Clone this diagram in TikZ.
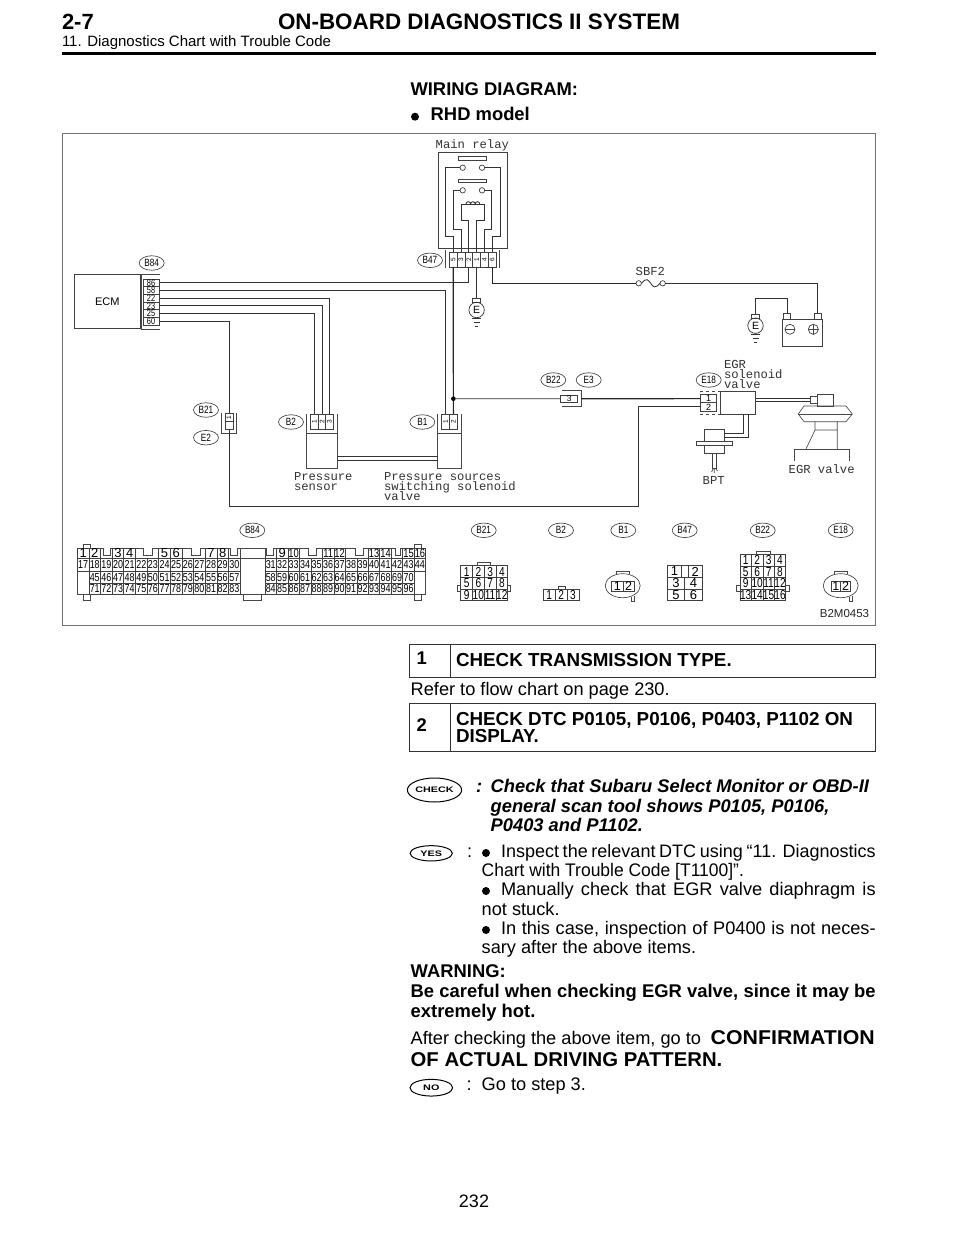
\documentclass[tikz,border=0pt]{standalone}
\usepackage{fontspec}
\usepackage{graphicx}
\setmainfont{Liberation Sans}
\newfontfamily\cadfont{Liberation Mono}
\usetikzlibrary{shapes.geometric}
\newcommand{\pxs}[1]{\fontsize{#1}{#1}\selectfont}
\newcommand{\nar}[1]{\scalebox{.78}[1]{#1}}
\newcommand{\rotp}[1]{\rotatebox{90}{\pxs{6.5}#1}}
\newcommand{\gndsym}[2]{\draw[wire] (#1-4.5,#2)--(#1+4.5,#2) (#1-3,#2+4)--(#1+3,#2+4) (#1-1.5,#2+8)--(#1+1.5,#2+8);}
\tikzset{
  wire/.style={line width=.85pt,draw=black!80},
  thick wire/.style={line width=1.2pt,draw=black!85},
  thinl/.style={line width=.65pt,draw=black!72},
  txt/.style={anchor=base west,inner sep=0,outer sep=0,text=black},
  cad/.style={anchor=base west,inner sep=0,outer sep=0,text=black!80,font=\cadfont\pxs{12.2}},
  bubble/.style={ellipse,draw=black!75,line width=.65pt,minimum width=25pt,minimum height=14.5pt,inner sep=0,outer sep=0,font=\pxs{10.5}},
  oval/.style={ellipse,draw=black,line width=1pt,inner sep=0,outer sep=0,font=\bfseries\pxs{8}},
  cell/.style={rectangle,draw=black!75,line width=.65pt,inner sep=0,outer sep=0},
  contact/.style={circle,draw=black!80,line width=.65pt,minimum size=5.4pt,inner sep=0,outer sep=0,fill=white},
  rm/.style={txt,font=\pxs{18.2}},
  bd/.style={txt,font=\bfseries\pxs{18.4}},
  bi/.style={txt,font=\bfseries\itshape\pxs{18.3}},
  dotm/.style={circle,fill=black,minimum size=8pt,inner sep=0},
}
\begin{document}
\begin{tikzpicture}[x=1pt,y=-1pt]
\useasboundingbox (0,0) rectangle (960,1242);
\fill[white] (0,0) rectangle (960,1242);
% ---- header
\node[txt,font=\bfseries\pxs{22}] (hA) at (62,29) {2-7};
\node[txt,font=\bfseries\pxs{22.4}] (hB) at (278,29) {ON-BOARD DIAGNOSTICS II SYSTEM};
\node[txt,font=\pxs{15}] (hC) at (62,46.7) {11. Diagnostics Chart with Trouble Code};
\coordinate (ruleL) at (62,53.7); \coordinate (ruleR) at (876,53.7);
\draw[line width=3pt] (ruleL) -- (ruleR);
\node[bd] (wd) at (410.5,95.7) {WIRING DIAGRAM:};
\node[dotm] (bul0) at (415,116.7) {};
\node[bd] (rhd) at (430.7,120.5) {RHD model};
% ---- frame
\draw[line width=1pt,draw=black!55] (62.5,133) rectangle (875.7,625);
% ---- ECM
\node[cell,minimum width=66.7pt,minimum height=54.7pt,font=\pxs{11}] (ecm) at (107.3,301.3) {ECM};
\node[bubble] (bE) at (151.7,263) {\nar{B84}};
\draw[thinl] (141,274)--(160,274) (141,329)--(160,329) (141,274)--(141,329);
\foreach \n/\y in {86/282.8,58/290.5,22/298.2,23/305.8,25/313.5,60/321.2}
  \node[cell,minimum width=16pt,minimum height=7.67pt,font=\pxs{9.5}] (e\n) at (151,\y) {\nar{\n}};
% ---- main relay
\node[cad] (tRelay) at (435.7,148.3) {Main relay};
\node[cell,minimum width=69.3pt,minimum height=96pt] (relay) at (472.65,200) {};
\node[cell,minimum width=27.3pt,minimum height=4pt] (bar1) at (472.3,158) {};
\node[cell,minimum width=27.3pt,minimum height=3.4pt] (bar2) at (472.3,181) {};
\node[contact] (c1l) at (462.7,167.7) {};
\node[contact] (c1r) at (482,167.7) {};
\node[contact] (c2l) at (462.7,190.3) {};
\node[contact] (c2r) at (482,190.3) {};
\node[bubble] (bR) at (430,260.3) {\nar{B47}};
\draw[thinl] (445,250)--(445,268) (499.3,250)--(499.3,268);
\foreach \k/\x/\t in {1/453.2/5,2/461/3,3/468.8/2,4/476.6/1,5/484.4/4,6/492.2/6}
  \node[cell,minimum width=7.8pt,minimum height=14.7pt] (r\k) at (\x,259.6) {\rotp{\t}};
\draw[wire] (c1l.west) -| (445,236.7) -| (r1.north);
\draw[wire] (c1r.east) -| (500,236.7) -| (r6.north);
\draw[wire] (c2l.west) -| (453,229.3) -| (r2.north);
\draw[wire] (c2r.east) -| (491.7,229.3) -| (r5.north);
\draw[wire] (r3.north) |- (461,220) |- (484,204) -- (484,220) -| (r4.north);
\draw[wire] (466,204) arc[start angle=180,end angle=360,radius=2.3] arc[start angle=180,end angle=360,radius=2.3] arc[start angle=180,end angle=360,radius=2.3];
% ---- ground 1
\node[cell,minimum width=8pt,minimum height=3.7pt] (g1t) at (476.6,300.2) {};
\node[circle,draw=black!80,line width=.7pt,minimum size=15.4pt,inner sep=0,font=\pxs{10.5}] (g1) at (476.6,310) {E};
\gndsym{476.6}{318}
\draw[wire] (r4.south) -- (g1t.north);
% ---- ECM wires
\draw[wire] (e86.east) -| (r3.south);
\node[cell,minimum width=7.8pt,minimum height=15.3pt] (b1a) at (445.6,421.7) {\rotp{1}};
\node[cell,minimum width=7.8pt,minimum height=15.3pt] (b1b) at (453.4,421.7) {\rotp{2}};
\foreach \k/\x in {1/314.5,2/322,3/329.5}
  \node[cell,minimum width=7.53pt,minimum height=15.3pt] (b2\k) at (\x,421.7) {\rotp{\k}};
\node[cell,minimum width=7.7pt,minimum height=7.8pt] (b21a) at (229,417.2) {\rotp{1}};
\node[cell,minimum width=7.7pt,minimum height=7.8pt] (b21b) at (229,425.1) {};
\draw[wire] (e58.east) -| (b1a.north);
\draw[wire] (e22.east) -| (b23.north);
\draw[wire] (e23.east) -| (b22.north);
\draw[wire] (e25.east) -| (b21.north);
\draw[wire] (e60.east) -| (b21a.north);
\draw[thick wire] (r1.south) -- (b1b.north);
% ---- B21 E2
\node[bubble] (bB21) at (206,410) {\nar{B21}};
\node[bubble] (bE2) at (206,437.7) {\nar{E2}};
\draw[thinl] (221.3,413)--(221.3,433)--(236.7,433)--(236.7,413);
% ---- pressure sensor and valve
\node[bubble] (bB2) at (291,422) {\nar{B2}};
\node[bubble] (bB1) at (422.3,422) {\nar{B1}};
\draw[thinl] (306.7,414)--(306.7,468.3)--(337.3,468.3)--(337.3,414) (306.7,433.3)--(337.3,433.3);
\draw[thinl] (437.7,414)--(437.7,468.3)--(461,468.3)--(461,414) (437.7,433.3)--(461,433.3);
\coordinate (hoseA) at (337.3,456.7); \coordinate (hoseB) at (437.7,456.7);
\coordinate (hoseC) at (337.3,460); \coordinate (hoseD) at (437.7,460);
\draw[wire] (hoseA)--(hoseB) (hoseC)--(hoseD);
\node[cad] (tPS1) at (294,480.7) {Pressure};
\node[cad] (tPS2) at (294,490.5) {sensor};
\node[cad] (tPV1) at (384,480.7) {Pressure sources};
\node[cad] (tPV2) at (384,490.5) {switching solenoid};
\node[cad] (tPV3) at (384,500.3) {valve};
% ---- junction and B22
\node[circle,fill=black,minimum size=4.6pt,inner sep=0] (dot) at (453.4,398.7) {};
\node[bubble] (bB22) at (553.3,380) {\nar{B22}};
\node[bubble] (bE3) at (588.7,380) {\nar{E3}};
\node[cell,minimum width=17pt,minimum height=7.7pt,font=\pxs{8.5}] (b22) at (569.2,398.8) {3};
\draw[thinl] (561.7,390.7)--(581,390.7)--(581,406.7)--(561.7,406.7);
\draw[wire] (dot) -- (b22.west);
% ---- E18
\node[bubble] (bE18) at (708.7,380) {\nar{E18}};
\node[cell,minimum width=16pt,minimum height=8.3pt,font=\pxs{9}] (e181) at (708.7,398.6) {1};
\node[cell,minimum width=16pt,minimum height=8.3pt,font=\pxs{9}] (e182) at (708.7,406.9) {2};
\node[cell,minimum width=35pt,minimum height=23pt] (egrs) at (738.2,402.5) {};
\draw[thinl,dashed] (700,391)--(720,391) (700,414)--(720,414);
\draw[thick wire] (b22.east) ++(3.5,0) -- (e181.west);
\draw[wire] (b21b.south) |- (638.7,506.7) |- (e182.west);
\node[cad] (tE1) at (724,368) {EGR};
\node[cad] (tE2) at (724,378) {solenoid};
\node[cad] (tE3) at (724,388) {valve};
% ---- BPT
\node[cell,minimum width=20pt,minimum height=12.4pt] (bpt) at (714.3,435.5) {};
\node[cell,minimum width=36.3pt,minimum height=3.6pt] (bptf) at (714.2,443.5) {};
\node[cell,minimum width=20pt,minimum height=8pt] (bptl) at (714.3,449.3) {};
\node[cell,minimum width=3.7pt,minimum height=15pt] (bptp) at (714.2,460.8) {};
\draw[thinl] (711.5,472)..controls (713,469)..(713.5,468.3) (717.5,471)..controls (716,469.5)..(715.5,468.3) (714.3,468.3)--(714.3,473);
\draw[wire] (743.3,414) |- (bpt.east|-0,433.3);
\draw[wire] (748,414) |- (bpt.east|-0,437.3);
\node[cad,anchor=base] (tB) at (713.7,484) {BPT};
% ---- EGR valve
\node[cell,minimum width=16pt,minimum height=11.7pt] (vt) at (825.3,400.2) {};
\draw[wire] (egrs.east|-0,398.3) -- (810,398.3) (egrs.east|-0,401) -- (810,401);
\draw[thinl] (810,396.5) rectangle (817.3,403);
\draw[thinl] (798.3,414)--(804,406)--(846,406)--(852.3,414)--(846,421.7)--(804,421.7)--cycle;
\draw[thinl] (798.3,414)--(852.3,414);
\draw[thinl] (815,421.7)--(815,430)--(806,449) (837.3,421.7)--(837.3,449) (815,430)--(837.3,430);
\draw[thinl] (794,460.7)--(794,449)--(849,449)--(849,460.7);
\node[cad] (tV) at (788.7,473) {EGR valve};
% ---- fuse and battery
\node[cad] (tS) at (635.7,275.7) {SBF2};
\node[contact] (f1) at (638.7,283.3) {};
\node[contact] (f2) at (662.7,283.3) {};
\draw[wire] (f1.east) .. controls (647,277) and (648,280) .. (650.7,283.3) .. controls (653,287) and (655,289) .. (f2.west);
\draw[thick wire] (r6.south) |- (f1.west);
\node[cell,minimum width=39.7pt,minimum height=27.4pt] (bat) at (802.2,333) {};
\node[cell,minimum width=7.4pt,minimum height=5.6pt] (tm) at (787,316.5) {};
\node[cell,minimum width=7.4pt,minimum height=5.6pt] (tp) at (817.7,316.5) {};
\node[circle,draw=black!80,line width=.65pt,minimum size=10pt,inner sep=0] (cm) at (790,329.3) {};
\node[circle,draw=black!80,line width=.65pt,minimum size=10pt,inner sep=0] (cp) at (813.3,329.3) {};
\draw[thinl] (cm.west)--(cm.east) (cp.west)--(cp.east) (cp.north)--(cp.south);
\draw[wire] (f2.east) -| (tp.north);
\node[cell,minimum width=7.6pt,minimum height=4pt] (g2t) at (755.5,316) {};
\node[circle,draw=black!80,line width=.7pt,minimum size=15.4pt,inner sep=0,font=\pxs{10.5}] (g2) at (755.5,325.7) {E};
\gndsym{755.5}{334}
\draw[wire] (tm.north) |- (755.5,298.3) -- (g2t.north);
% ---- lower connector labels
\node[bubble] (lB84) at (252.3,530.3) {\nar{B84}};
\node[bubble] (lB21) at (483.7,530.3) {\nar{B21}};
\node[bubble] (lB2) at (561,530.3) {\nar{B2}};
\node[bubble] (lB1) at (623.3,530.3) {\nar{B1}};
\node[bubble] (lB47) at (684.7,530.3) {\nar{B47}};
\node[bubble] (lB22) at (762.7,530.3) {\nar{B22}};
\node[bubble] (lE18) at (840.7,530.3) {\nar{E18}};
% ---- big connector
\def\ytop{548.3}\def\yone{558.3}\def\ytwo{571}\def\ythr{583.3}\def\yfou{594.3}
\draw[thinl] (77.3,\yone) rectangle (425.7,\yfou);
\draw[thinl] (77.3,\yone)--(77.3,\ytop)--(425.7,\ytop)--(425.7,\yone);
\foreach \a/\b in {103.3/110,143.3/152.7,191.7/200,230.7/237.3,266.7/273.3,308.3/316.7,355/363.3,395/400.7}{
  \fill[white] (\a,\ytop-1) rectangle (\b,\yone-3);
  \draw[thinl] (\a,\ytop)--(\a,\yone-3)--(\b,\yone-3)--(\b,\ytop);
}
\draw[thinl] (239.9,\ytop)--(239.9,\yone) (265,\ytop)--(265,\yone);
\foreach \c/\n in {0/1,1/2,3/3,4/4,7/5,8/6,11/7,12/8}
  \node[cell,minimum width=11.63pt,minimum height=10pt,font=\pxs{13}] (t\n) at ({77.3+11.63*(\c+.5)},553.3) {\n};
\foreach \c/\n in {1/9}
  \node[cell,minimum width=11.48pt,minimum height=10pt,font=\pxs{13}] (t\n) at ({265+11.48*(\c+.5)},553.3) {\n};
\foreach \c/\n in {2/10,5/11,6/12,9/13,10/14,12/15,13/16}
  \node[cell,minimum width=11.48pt,minimum height=10pt,font=\pxs{12}] (t\n) at ({265+11.48*(\c+.5)},553.3) {\nar{\n}};
\foreach \c in {0,...,13}{
  \pgfmathtruncatemacro{\m}{17+\c}
  \node[cell,minimum width=11.63pt,minimum height=12.7pt,font=\pxs{11.5}] (t\m) at ({77.3+11.63*(\c+.5)},564.65) {\nar{\m}};
  \pgfmathtruncatemacro{\m}{31+\c}
  \node[cell,minimum width=11.48pt,minimum height=12.7pt,font=\pxs{11.5}] (t\m) at ({265+11.48*(\c+.5)},564.65) {\nar{\m}};
}
\foreach \c in {1,...,13}{
  \pgfmathtruncatemacro{\m}{44+\c}
  \node[cell,minimum width=11.63pt,minimum height=12.3pt,font=\pxs{11.5}] (t\m) at ({77.3+11.63*(\c+.5)},577.15) {\nar{\m}};
  \pgfmathtruncatemacro{\m}{70+\c}
  \node[cell,minimum width=11.63pt,minimum height=11pt,font=\pxs{11.5}] (t\m) at ({77.3+11.63*(\c+.5)},588.8) {\nar{\m}};
}
\foreach \c in {0,...,12}{
  \pgfmathtruncatemacro{\m}{58+\c}
  \node[cell,minimum width=11.48pt,minimum height=12.3pt,font=\pxs{11.5}] (t\m) at ({265+11.48*(\c+.5)},577.15) {\nar{\m}};
  \pgfmathtruncatemacro{\m}{84+\c}
  \node[cell,minimum width=11.48pt,minimum height=11pt,font=\pxs{11.5}] (t\m) at ({265+11.48*(\c+.5)},588.8) {\nar{\m}};
}
\draw[thinl] (83.3,548.3)--(83.3,544.3)--(90,544.3)--(90,548.3);
\draw[thinl] (83.3,594.3)--(83.3,600)--(90,600)--(90,594.3);
\draw[thinl] (243.3,594.3)--(243.3,600)--(261,600)--(261,594.3);
\draw[thinl] (414.3,548.3)--(414.3,544.3)--(421,544.3)--(421,548.3);
\draw[thinl] (414.3,594.3)--(414.3,600)--(421,600)--(421,594.3);
% ---- B21 plug
\foreach \l [count=\i from 0] in {{1,2,3,4},{5,6,7,8},{9,10,11,12}}{
  \foreach \t [count=\j from 0] in \l
    \node[cell,minimum width=11.75pt,minimum height=11.67pt,font=\pxs{13}] (pa\t) at ({460.7+11.75*(\j+.5)},{565.7+11.67*(\i+.5)}) {\nar{\t}};
}
\draw[thinl] (477.7,565.7)--(477.7,562.3)--(490,562.3)--(490,565.7);
\draw[thinl] (460.7,585)--(457.3,585)--(457.3,591.7)--(460.7,591.7);
\draw[thinl] (507.7,585)--(510.7,585)--(510.7,591.7)--(507.7,591.7);
% ---- B2 plug
\foreach \t [count=\j from 0] in {1,2,3}
  \node[cell,minimum width=11.9pt,minimum height=11.7pt,font=\pxs{13}] (pb\t) at ({543.3+11.9*(\j+.5)},594.85) {\nar{\t}};
\draw[thinl] (558.3,589)--(558.3,586)--(565,586)--(565,589);
% ---- B1 plug
\node[ellipse,draw=black!75,line width=.65pt,minimum width=35pt,minimum height=24pt,inner sep=0] (pc) at (622.7,585.7) {};
\node[cell,minimum width=11.3pt,minimum height=9.3pt,font=\pxs{12.5}] (pc1) at (617.3,586.3) {1};
\node[cell,minimum width=11.3pt,minimum height=9.3pt,font=\pxs{12.5}] (pc2) at (628.6,586.3) {2};
\draw[thinl] (616.7,574.2)--(616.7,571)--(629.3,571)--(629.3,574.2);
\draw[thinl] (631,596.6)--(631,601)--(634.3,601)--(634.3,595.6);
% ---- B47 plug
\node[cell,minimum width=14.3pt,minimum height=11.7pt,font=\pxs{13}] (pd1) at (674.5,571.5) {1};
\node[cell,minimum width=6.7pt,minimum height=11.7pt] (pdg) at (685,571.5) {};
\node[cell,minimum width=14pt,minimum height=11.7pt,font=\pxs{13}] (pd2) at (695.3,571.5) {2};
\node[cell,minimum width=17.5pt,minimum height=11.7pt,font=\pxs{13}] (pd3) at (676.05,583.2) {3};
\node[cell,minimum width=17.5pt,minimum height=11.7pt,font=\pxs{13}] (pd4) at (693.55,583.2) {4};
\node[cell,minimum width=17.5pt,minimum height=11.7pt,font=\pxs{13}] (pd5) at (676.05,594.85) {5};
\node[cell,minimum width=17.5pt,minimum height=11.7pt,font=\pxs{13}] (pd6) at (693.55,594.85) {6};
% ---- B22 plug
\foreach \l [count=\i from 0] in {{1,2,3,4},{5,6,7,8},{9,10,11,12},{13,14,15,16}}{
  \foreach \t [count=\j from 0] in \l
    \node[cell,minimum width=11.43pt,minimum height=11.6pt,font=\pxs{13}] (pe\t) at ({740+11.43*(\j+.5)},{554.3+11.6*(\i+.5)}) {\nar{\t}};
}
\draw[thinl] (756.7,554.3)--(756.7,551)--(770,551)--(770,554.3);
\draw[thinl] (740,585)--(736,585)--(736,591.7)--(740,591.7);
\draw[thinl] (785.7,585)--(789,585)--(789,591.7)--(785.7,591.7);
% ---- E18 plug
\node[ellipse,draw=black!75,line width=.65pt,minimum width=35pt,minimum height=24pt,inner sep=0] (pf) at (840.7,585.7) {};
\node[cell,minimum width=9.7pt,minimum height=9.3pt,font=\pxs{12.5}] (pf1) at (835.8,586.3) {1};
\node[cell,minimum width=9.7pt,minimum height=9.3pt,font=\pxs{12.5}] (pf2) at (845.5,586.3) {2};
\draw[thinl] (834.7,574.2)--(834.7,571)--(847.3,571)--(847.3,574.2);
\draw[thinl] (849,596.6)--(849,601)--(852.3,601)--(852.3,595.6);
\node[anchor=base east,inner sep=0,font=\pxs{11.5},text=black!85] (ref) at (869.3,617.7) {B2M0453};
% ---- step boxes
\draw[line width=1pt,draw=black!80] (409.3,644) rectangle (875.7,677.7) (450.7,644)--(450.7,677.7);
\node[bd] (s1n) at (416.7,664) {1};
\node[txt,font=\bfseries\pxs{18.8}] (s1t) at (456,666.7) {CHECK TRANSMISSION TYPE.};
\node[rm] (refer) at (410.7,695) {Refer to flow chart on page 230.};
\draw[line width=1pt,draw=black!80] (409.3,703.3) rectangle (875.7,751) (450.7,703.3)--(450.7,751);
\node[bd] (s2n) at (416.7,731.7) {2};
\node[txt,font=\bfseries\pxs{18.8}] (s2a) at (456,725) {CHECK DTC P0105, P0106, P0403, P1102 ON};
\node[txt,font=\bfseries\pxs{18.8}] (s2b) at (456,742.7) {DISPLAY.};
% ---- CHECK
\node[oval,minimum width=51pt,minimum height=24pt] (ovC) at (434.5,790) {\scalebox{1.35}[1]{CHECK}};
\node[bi] (cc) at (476,792.7) {:};
\node[bi] (c1) at (490.7,792.7) {Check that Subaru Select Monitor or OBD-II};
\node[bi] (c2) at (490.7,812.3) {general scan tool shows P0105, P0106,};
\node[bi] (c3) at (490.7,831.7) {P0403 and P1102.};
% ---- YES
\node[oval,minimum width=42.3pt,minimum height=15.3pt] (ovY) at (431.2,853.3) {\scalebox{1.35}[1]{YES}};
\node[rm] (yc) at (467,857.3) {:};
\node[dotm] (bu1) at (486,853) {};
\node[txt,font=\pxs{18}] (y1) at (501,857.3) {\makebox[374.7pt][s]{Inspect the relevant DTC using “11. Diagnostics}};
\node[rm] (y2) at (481.7,876) {\scalebox{.96}[1]{Chart with Trouble Code [T1100]”.}};
\node[dotm] (bu2) at (486,891) {};
\node[rm] (y3) at (501,895.3) {\makebox[374.7pt][s]{Manually check that EGR valve diaphragm is}};
\node[rm] (y4) at (481.7,915) {not stuck.};
\node[dotm] (bu3) at (486,930) {};
\node[rm] (y5) at (501,934.3) {\makebox[374.7pt][s]{In this case, inspection of P0400 is not neces-}};
\node[rm] (y6) at (481.7,953.5) {sary after the above items.};
\node[bd] (w1) at (410.7,977) {WARNING:};
\node[bd] (w2) at (410.7,997) {\makebox[465pt][s]{Be careful when checking EGR valve, since it may be}};
\node[bd] (w3) at (410.7,1017) {extremely hot.};
\node[rm] (a1) at (410.7,1044.5) {After checking the above item, go to};
\node[anchor=base east,inner sep=0,font=\bfseries\pxs{20}] (a2) at (875,1044) {\scalebox{1.065}[1]{CONFIRMATION}};
\node[txt,font=\bfseries\pxs{20}] (a3) at (410.7,1066) {\scalebox{1.015}[1]{OF ACTUAL DRIVING PATTERN.}};
% ---- NO
\node[oval,minimum width=42.7pt,minimum height=16.7pt] (ovN) at (431.3,1087.7) {\scalebox{1.35}[1]{NO}};
\node[rm] (n1) at (466.7,1090.7) {:};
\node[rm] (n2) at (481.7,1090.7) {Go to step 3.};
\node[anchor=base,inner sep=0,font=\pxs{18}] (pg) at (474,1207) {232};
\end{tikzpicture}
\end{document}
